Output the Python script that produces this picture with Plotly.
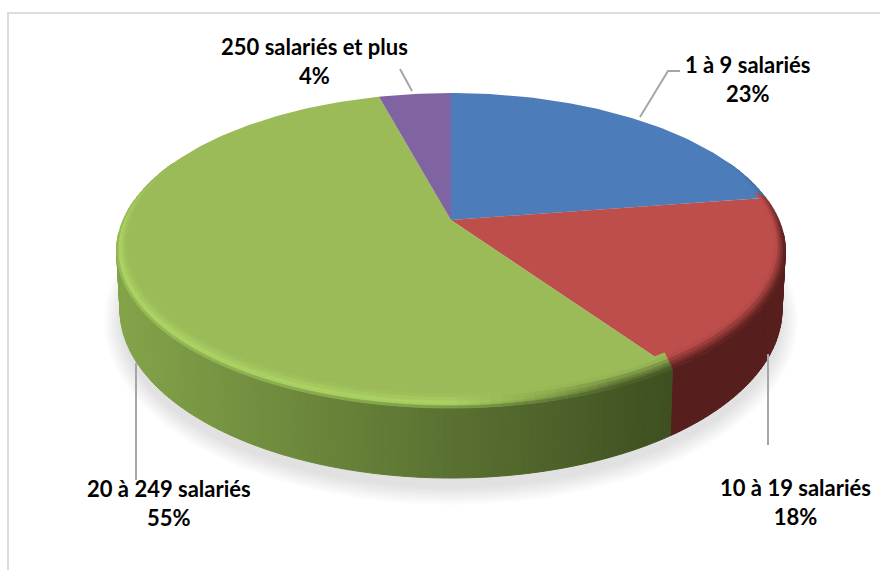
import numpy as np
import plotly.graph_objects as go

# ---- data ----
categories = ["1 à 9 salariés", "10 à 19 salariés", "20 à 249 salariés", "250 salariés et plus"]
values = [22.6, 17.8, 55.4, 4.2]
colors = ["#4c7dba", "#bd4e4b", "#9bbb59", "#8064a2"]
side_left = ["#2f4f75", "#6b2523", "#84a44a", "#4c3b61"]
side_right = ["#2f4f75", "#561e1c", "#3d4e20", "#4c3b61"]

# ---- projection of the tilted disc to pixel coordinates ----
AX, AY = 451.0, 220.0      # apex of the slices
K, S, R = 0.194, 151.6, 328.0
CX, CY = AX, AY + S * K / (1 - K ** 2)
RX, RY = R / np.sqrt(1 - K ** 2), S / (1 - K ** 2)
BX, BY, BRX, BRY = 451.0, 309.5, 331.0, 168.5   # lower edge of the disc
IN_DX, IN_DY = 12.0, 9.0   # bevel inset


def project(theta):
    X, Y = np.sin(theta), np.cos(theta)
    w = 1 + K * Y
    return AX + R * X / w, AY - S * Y / w


def ellipse_param(theta):
    x, y = project(theta)
    return (x - CX) / RX, (CY - y) / RY   # sin(phi), cos(phi)


def hex2rgb(c):
    return np.array([int(c[i:i + 2], 16) for i in (1, 3, 5)], float)


def mixc(a, b, t):
    return np.array(a) * (1 - t) + np.array(b) * t


def rgbs(v):
    return "rgb(%d,%d,%d)" % tuple(np.clip(v, 0, 255))


fig = go.Figure()


def poly(xs, ys, color, width=1.0):
    fig.add_trace(go.Scatter(
        x=xs, y=ys, mode="lines", fill="toself", fillcolor=color,
        line=dict(color=color, width=width),
        hoverinfo="skip", showlegend=False))


# soft shadow under the disc
ph = np.linspace(0, 2 * np.pi, 181)
for i in range(10):
    g = 16 - i * 1.9
    poly(451 + (331 + g) * np.sin(ph), 321 + (168 + g) * np.cos(ph),
         "rgba(120,120,120,0.022)", width=0)

# slice angles
edges = np.concatenate([[0], np.cumsum(values)]) / sum(values) * 2 * np.pi
slices = [(edges[i], edges[i + 1]) for i in range(len(values))]
STEP = np.radians(1.6)

# side wall, drawn as narrow strips along the front
for i, (a, b) in enumerate(slices):
    n = max(2, int((b - a) / (STEP * 0.7)))
    th = np.linspace(a, b, n + 1)
    for t0, t1 in zip(th[:-1], th[1:]):
        s0, c0 = ellipse_param(t0)
        s1, c1 = ellipse_param(t1)
        if max(c0, c1) > 0.12:
            continue
        xt = [CX + RX * s0, CX + RX * s1, BX + BRX * s1, BX + BRX * s0]
        yt = [CY - RY * c0, CY - RY * c1, BY - BRY * c1, BY - BRY * c0]
        p = min(1.0, (0.5 * (s0 + s1) + 1) / 2 / 0.85)
        poly(xt + xt[:1], yt + yt[:1], rgbs(mixc(hex2rgb(side_left[i]), hex2rgb(side_right[i]), p)))

# top faces
for i, (a, b) in enumerate(slices):
    th = np.linspace(a, b, max(3, int((b - a) / np.radians(1.0))))
    x, y = project(th)
    poly(np.r_[AX, x, AX], np.r_[AY, y, AY], colors[i], width=0)

# bevel along the rim: face colour -> highlight -> wall colour
LEVELS = np.array([0.0, 0.2, 0.4, 0.6, 0.75, 0.87, 1.0])
for i, (a, b) in enumerate(slices):
    n = max(2, int((b - a) / STEP))
    th = np.linspace(a, b, n + 1)
    face = hex2rgb(colors[i])
    hi = np.minimum(face + np.array([22, 30, 14]), 255)
    for t0, t1 in zip(th[:-1], th[1:]):
        s0, c0 = ellipse_param(t0)
        s1, c1 = ellipse_param(t1)
        sm, cm = 0.5 * (s0 + s1), 0.5 * (c0 + c1)
        if cm > 0.55:
            continue
        fade = float(np.clip((0.55 - cm) / 0.45, 0, 1))
        h = float(np.clip((0.5 - sm) / 0.5, 0, 1))
        wall = mixc(hex2rgb(side_left[i]), hex2rgb(side_right[i]), min(1.0, (sm + 1) / 2 / 0.85))
        for lv0, lv1 in zip(LEVELS[:-1], LEVELS[1:]):
            lv = 0.5 * (lv0 + lv1)
            if lv < 0.78:
                shade = mixc(face, hi, (lv / 0.78) ** 2)
            else:
                shade = mixc(hi, wall, (lv - 0.78) / 0.22 * 0.8)
            dark = mixc(face, wall, float(np.clip((lv - 0.25) / 0.75, 0, 1)))
            col = mixc(mixc(dark, shade, h), face, 1 - fade)

            def ring(s, c, l):
                return (CX + (RX - IN_DX * (1 - l)) * s,
                        CY - IN_DY * (1 - l) - (RY - IN_DY * (1 - l)) * c)
            p = [ring(s0, c0, lv0), ring(s1, c1, lv0), ring(s1, c1, lv1), ring(s0, c0, lv1)]
            xs, ys = zip(*(p + p[:1]))
            poly(list(xs), list(ys), rgbs(col), width=0.7)

# frame of the chart area
fig.add_shape(type="path", path="M 8 570 L 8 13 L 880 13",
              line=dict(color="#dcdcdc", width=2), layer="below")

# leader lines
leaders = [
    ([640, 668, 680], [117, 71, 71]),
    ([400, 412], [69, 91]),
    ([768, 768], [354, 445]),
    ([136, 136], [363, 480]),
]
for lx, ly in leaders:
    fig.add_trace(go.Scatter(x=lx, y=ly, mode="lines", line=dict(color="#a6a6a6", width=2),
                             hoverinfo="skip", showlegend=False))

# data labels
label_pos = [(747, 79), (795, 502), (169, 503), (314, 61)]
for cat, v, (lx, ly) in zip(categories, values, label_pos):
    fig.add_annotation(x=lx, y=ly, text="<b>%s</b><br><b>%d%%</b>" % (cat, round(v)), showarrow=False,
                       font=dict(family="Lato", size=22, color="#000000"),
                       align="center", xanchor="center", yanchor="middle")

fig.update_layout(
    width=880, height=570, margin=dict(l=0, r=0, t=0, b=0),
    paper_bgcolor="white", plot_bgcolor="white", showlegend=False,
    xaxis=dict(range=[0, 880], visible=False, fixedrange=True),
    yaxis=dict(range=[570, 0], visible=False, fixedrange=True),
)
fig.write_html("out.html", config={"displayModeBar": False},
               post_script="document.body.style.margin='0';")
